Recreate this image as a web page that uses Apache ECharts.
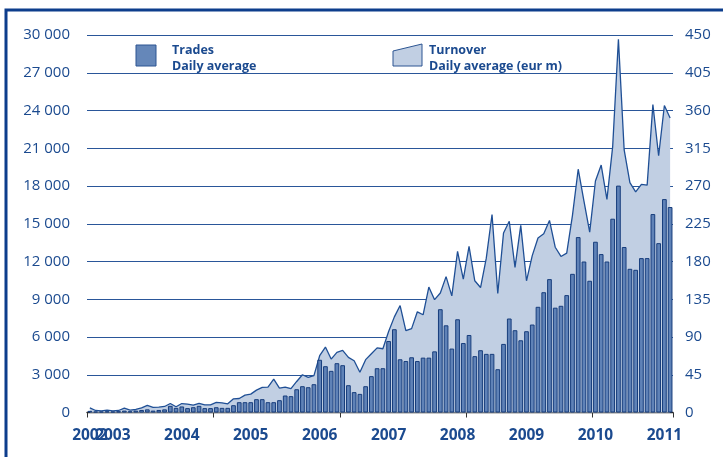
<!DOCTYPE html>
<html>
<head>
<meta charset="utf-8">
<script src="https://cdn.jsdelivr.net/npm/echarts@6/dist/echarts.min.js"></script>
<style>
html,body{margin:0;padding:0;background:#fff;}
#chart{width:723px;height:457px;}
</style>
</head>
<body>
<div id="chart"></div>
<script>
// Months from Sep 2002 to Feb 2011
var startYear = 2002, startMonth = 9, monthCount = 102;
var categories = [];
for (var k = 0; k < monthCount; k++) {
  var m = startMonth - 1 + k;
  var y = startYear + Math.floor(m / 12);
  var mm = (m % 12) + 1;
  categories.push(y + '-' + (mm < 10 ? '0' + mm : mm));
}

// Trades, daily average (left axis)
var trades = [
  130, 80, 80, 100, 80, 100, 150, 100, 150, 200, 250, 150,
  200, 250, 530, 370, 480, 350, 420, 530, 350, 350, 420, 370,
  370, 580, 820, 820, 820, 1060, 1060, 820, 820, 980, 1350, 1300,
  1850, 2090, 2010, 2250, 4190, 3680, 3310, 3920, 3760, 2170, 1620, 1480,
  2090, 2890, 3520, 3520, 5680, 6620, 4230, 4090, 4390, 4090, 4360, 4360,
  4860, 8210, 6930, 5080, 7410, 5520, 6160, 4480, 4950, 4660, 4660, 3440,
  5450, 7470, 6540, 5740, 6460, 6990, 8400, 9560, 10600, 8330, 8480, 9330,
  11020, 13940, 12000, 10470, 13570, 12590, 12000, 15400, 18030, 13150, 11420, 11340,
  12270, 12270, 15770, 13460, 16960, 16330
];

// Turnover, daily average (eur m) (right axis)
var turnover = [
  5.6, 2.4, 2, 2.8, 2, 2.4, 5.2, 2.8, 3.6, 5.6, 8.4, 6,
  6.4, 7.2, 10.7, 6.8, 10.7, 10, 8.8, 11, 9.2, 9.2, 12, 11.5,
  10.3, 16.3, 16.7, 20.7, 21.9, 26.7, 29.9, 30.2, 39.8, 29, 30.2, 28.5,
  37, 45, 41.8, 44, 67.7, 78, 63.7, 71.6, 74, 65.7, 61.7, 48,
  63, 70, 77, 76, 96.5, 114, 127.5, 97.5, 100, 120, 116.5, 149.5,
  134.5, 142.5, 162, 139, 192, 159, 198, 157, 149, 184, 236, 142,
  214, 228, 173, 223, 157, 187, 208, 213, 229, 197, 186, 190,
  235, 290, 252, 215, 276, 295, 254, 317, 445, 313, 274, 263,
  272, 271, 367, 306, 366, 351
];

var leftTicks = [0, 3000, 6000, 9000, 12000, 15000, 18000, 21000, 24000, 27000, 30000];
var rightTicks = [0, 45, 90, 135, 180, 225, 270, 315, 360, 405, 450];

var txt = '#1b4a8f';

function fmtThousands(v) {
  var s = String(v);
  return s.replace(/\B(?=(\d{3})+(?!\d))/g, ' ');
}

var labelFont = {color: txt, fontFamily: 'Open Sans', fontWeight: 'bold', fontSize: 15.5, margin: 15};

var chart = echarts.init(document.getElementById('chart'), null, {renderer: 'canvas'});
chart.setOption({
  backgroundColor: '#ffffff',
  animation: false,
  grid: {left: 87, right: 50, top: 35, bottom: 44.5, containLabel: false},
  xAxis: [
    {
      type: 'category',
      data: categories,
      boundaryGap: true,
      axisLine: {show: true, lineStyle: {color: '#222', width: 1.3}},
      axisTick: {show: true, interval: 21, length: 5, lineStyle: {color: '#333'}},
      axisLabel: Object.assign({
        interval: function (idx, val) { return idx > 0 && val.slice(5) === '01'; },
        formatter: function (val) { return val.slice(0, 4); },
        hideOverlap: false
      }, labelFont),
      splitLine: {show: false}
    },
    {
      type: 'category',
      data: categories,
      boundaryGap: true,
      position: 'bottom',
      axisLine: {show: false},
      axisTick: {show: false},
      axisLabel: Object.assign({
        interval: function (idx) { return idx === 0; },
        formatter: function (val) { return val.slice(0, 4); },
        hideOverlap: false
      }, labelFont),
      splitLine: {show: false}
    }
  ],
  yAxis: [
    {
      type: 'value', min: leftTicks[0], max: leftTicks[leftTicks.length - 1], interval: 3000,
      axisLine: {show: false}, axisTick: {show: false},
      axisLabel: {formatter: fmtThousands, color: txt, fontFamily: 'Open Sans', fontSize: 15, margin: 17},
      splitLine: {show: true, lineStyle: {color: '#2a5699', width: 1.2}}
    },
    {
      type: 'value', min: rightTicks[0], max: rightTicks[rightTicks.length - 1], interval: 45,
      position: 'right',
      axisLine: {show: false}, axisTick: {show: false},
      axisLabel: {color: txt, fontFamily: 'Open Sans', fontSize: 15, margin: 12},
      splitLine: {show: false}
    }
  ],
  series: [
    {
      name: 'Turnover', type: 'line', xAxisIndex: 0, yAxisIndex: 1, data: turnover,
      symbol: 'none', smooth: false, z: 2,
      lineStyle: {color: '#1f4f95', width: 1.3},
      areaStyle: {color: '#c1cfe3', opacity: 1}
    },
    {
      name: 'Trades', type: 'bar', xAxisIndex: 0, yAxisIndex: 0, data: trades, z: 5,
      barCategoryGap: '18%',
      itemStyle: {color: '#5f82b7', borderColor: '#173d7c', borderWidth: 1}
    }
  ],
  graphic: [
    {type: 'rect', shape: {x: 6, y: 10, width: 800, height: 500}, style: {fill: 'none', stroke: '#0d3d8c', lineWidth: 3}, silent: true},
    {type: 'rect', shape: {x: 136, y: 45, width: 20, height: 21}, style: {fill: '#6587b9', stroke: '#2c5592', lineWidth: 1}},
    {type: 'text', left: 172, top: 44, style: {text: 'Trades', fill: txt, font: 'bold 12.5px "Open Sans"'}},
    {type: 'text', left: 172, top: 60, style: {text: 'Daily average', fill: txt, font: 'bold 12.5px "Open Sans"'}},
    {type: 'polygon', shape: {points: [[393, 51], [422, 44], [422, 66], [393, 66]]}, style: {fill: '#c1cfe3', stroke: '#2c5592', lineWidth: 1}},
    {type: 'text', left: 429, top: 44, style: {text: 'Turnover', fill: txt, font: 'bold 12.5px "Open Sans"'}},
    {type: 'text', left: 429, top: 60, style: {text: 'Daily average (eur m)', fill: txt, font: 'bold 12.5px "Open Sans"'}}
  ]
});
</script>
</body>
</html>
